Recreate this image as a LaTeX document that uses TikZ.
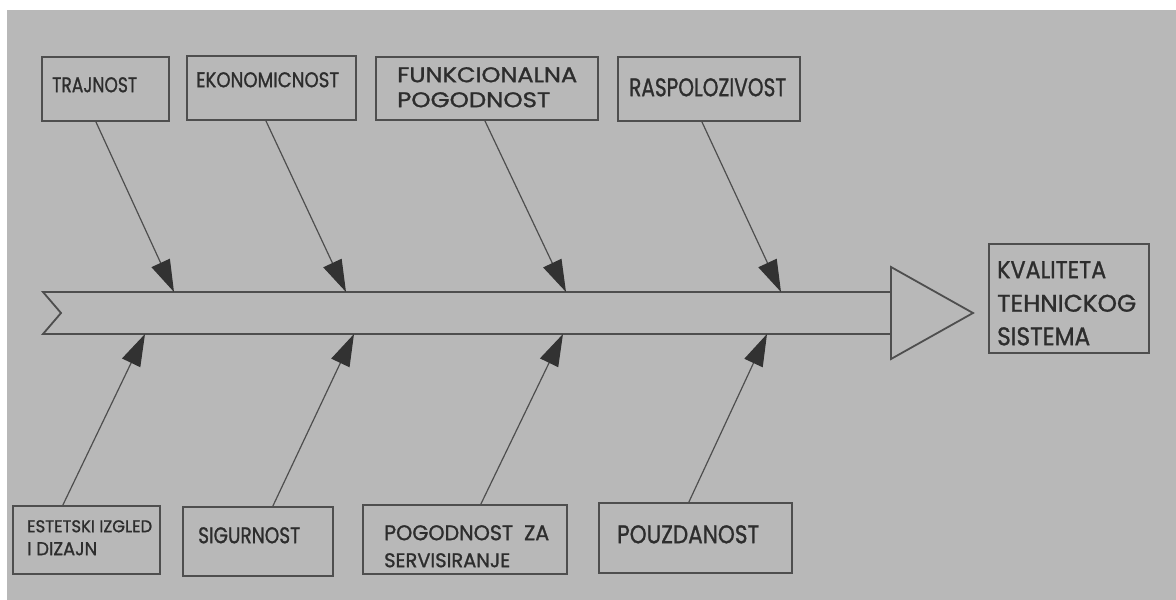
\documentclass[tikz,border=0pt]{standalone}
\usepackage{fontspec}
\usepackage{graphicx}
\newfontfamily\gfont[FakeBold=1.2]{Poppins}
\usetikzlibrary{arrows.meta}
\definecolor{bg}{RGB}{184,184,184}
\definecolor{ink}{RGB}{78,78,78}
\definecolor{tipc}{RGB}{50,50,50}
\definecolor{txtc}{RGB}{45,45,45}
\newcommand{\fitt}[3]{\resizebox{#1pt}{#2pt}{\gfont #3}}
\begin{document}
\begin{tikzpicture}[x=1pt,y=-1pt,
  box/.style={draw=ink, line width=1.8pt, inner sep=0pt, anchor=north west},
  lbl/.style={inner sep=0pt, anchor=north west, text=txtc, align=left},
  sp/.style={draw=ink, line width=1.8pt, line join=miter},
  arr/.style={draw=ink, line width=1.2pt, -{Triangle[length=32pt,width=20pt,color=tipc]}}]
\useasboundingbox (0,0) rectangle (1176,600);
\fill[white] (0,0) rectangle (1176,600);
\fill[bg] (7,10) rectangle (1176,600);

% spine and head
\draw[sp] (891,292) -- (43,292) -- (61,313) -- (43,334) -- (891,334);
\draw[sp] (891,267) -- (973,313) -- (891,359) -- cycle;
\coordinate (s1) at (174,292);
\coordinate (s2) at (346,292);
\coordinate (s3) at (566,292);
\coordinate (s4) at (781,292);
\coordinate (s5) at (145,334);
\coordinate (s6) at (354,334);
\coordinate (s7) at (563,334);
\coordinate (s8) at (767,334);

% boxes
\node[box, minimum width=127pt, minimum height=64pt] (b1) at (41,56) {};
\node[box, minimum width=169pt, minimum height=64pt] (b2) at (186,55) {};
\node[box, minimum width=222pt, minimum height=63pt] (b3) at (375,56) {};
\node[box, minimum width=182pt, minimum height=64pt] (b4) at (617,56) {};
\node[box, minimum width=147pt, minimum height=68pt] (b5) at (12,505) {};
\node[box, minimum width=150pt, minimum height=69pt] (b6) at (182,506) {};
\node[box, minimum width=204pt, minimum height=69pt] (b7) at (362,504) {};
\node[box, minimum width=193pt, minimum height=70pt] (b8) at (598,502) {};
\node[box, minimum width=160pt, minimum height=109pt] (b9) at (988,243) {};

% labels
\node[lbl] (t1) at (52,77) {\fitt{85}{15}{TRAJNOST}};
\node[lbl] (t2) at (196,72) {\fitt{143}{15}{EKONOMICNOST}};
\node[lbl, font=\fontsize{10}{25}\selectfont] (t3) at (397,67) {\fitt{180}{15}{FUNKCIONALNA}\\\fitt{153}{15}{POGODNOST}};
\node[lbl] (t4) at (629,78) {\fitt{157}{18}{RASPOLOZIVOST}};
\node[lbl, font=\fontsize{10}{23}\selectfont] (t5) at (27,520) {\fitt{125}{12}{ESTETSKI IZGLED}\\\fitt{70}{13}{I DIZAJN}};
\node[lbl] (t6) at (198,527) {\fitt{102}{16}{SIGURNOST}};
\node[lbl, font=\fontsize{10}{27}\selectfont] (t7) at (384,525) {\fitt{165}{15}{POGODNOST\ \ ZA}\\\fitt{126}{14}{SERVISIRANJE}};
\node[lbl] (t8) at (617,525) {\fitt{142}{18}{POUZDANOST}};
\node[lbl, font=\fontsize{10}{33.5}\selectfont] (t9) at (997,261) {\fitt{109}{17}{KVALITETA}\\\fitt{139}{17}{TEHNICKOG}\\\fitt{93}{18}{SISTEMA}};

% connectors
\draw[arr] ([xshift=-9.5pt]b1.south) -- (s1);
\draw[arr] ([xshift=-5.5pt]b2.south) -- (s2);
\draw[arr] ([xshift=-2pt]b3.south) -- (s3);
\draw[arr] ([xshift=-7pt]b4.south) -- (s4);
\draw[arr] ([xshift=-23.5pt]b5.north) -- (s5);
\draw[arr] ([xshift=15pt]b6.north) -- (s6);
\draw[arr] ([xshift=16pt]b7.north) -- (s7);
\draw[arr] ([xshift=-6.5pt]b8.north) -- (s8);
\end{tikzpicture}
\end{document}
